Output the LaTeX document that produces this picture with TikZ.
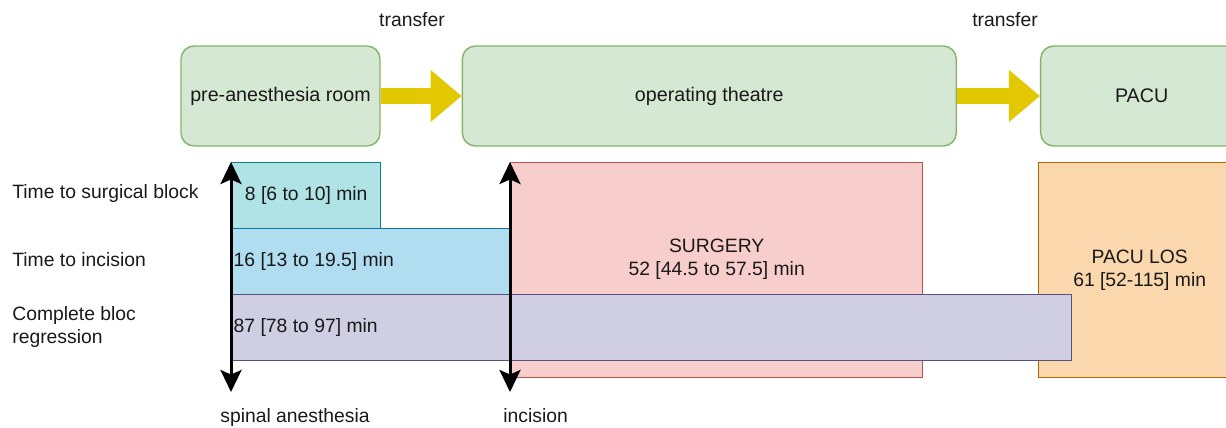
\documentclass[tikz,border=0pt]{standalone}
\usepackage{fontspec}
\setmainfont{Liberation Sans}
\usetikzlibrary{positioning, arrows.meta}

\definecolor{roomfill}{HTML}{D5E8D4}
\definecolor{roomline}{HTML}{82B366}
\definecolor{moveyellow}{HTML}{E3C800}
\definecolor{blkfill}{HTML}{B0E3E6}
\definecolor{blkline}{HTML}{0E8088}
\definecolor{incfill}{HTML}{B1DDF0}
\definecolor{incline}{HTML}{10739E}
\definecolor{regfill}{HTML}{D0CEE2}
\definecolor{regline}{HTML}{56517E}
\definecolor{surgfill}{HTML}{F8CECC}
\definecolor{surgline}{HTML}{B85450}
\definecolor{losfill}{HTML}{FAD7AC}
\definecolor{losline}{HTML}{B46504}

\begin{document}
\begin{tikzpicture}[x=0.02cm, y=-0.02cm, >={Stealth[length=0.44cm, width=0.42cm, inset=0.09cm]},
        node distance = 1.6cm, every node/.style={font=\fontsize{11}{13}\selectfont, text=black!90},
        room/.style={draw=roomline, fill=roomfill, line width=0.8pt, rounded corners=0.26cm,
            minimum width=3.98cm, minimum height=2cm, font=\fontsize{11.2}{13}\selectfont},
        bar/.style={draw=#1line, fill=#1fill, line width=0.8pt, anchor=north west,
            minimum height=1.32cm, inner sep=0pt},
        lbl/.style={anchor=west, inner xsep=0pt},
        transfer/.style={draw=moveyellow, line width=0.32cm, -{Triangle[length=0.62cm, width=1cm]}},
        timeline/.style={<->, line width=0.06cm}]
        \useasboundingbox (0,0) rectangle (1226,428);

        % rooms
        \node[room] (pre) at (280.5,96) {pre-anesthesia room};
        \node[room, minimum width=9.88cm, right=1.62cm of pre] (ot) {operating theatre};
        \node[room, minimum width=4.04cm, right=1.66cm of ot] (pacu) {PACU};
        \node (tr1) at (412,20) {transfer};
        \node (tr2) at (1005,20) {transfer};
        \draw[transfer] (pre) -- (ot);
        \draw[transfer] (ot) -- (pacu);

        % row labels
        \node[lbl] (lblk) at (12,194) {Time to surgical block};
        \node[lbl] (linc) at (12,260) {Time to incision};
        \node[lbl, align=left] (lreg) at (12,327) {Complete bloc\\regression};

        % durations
        \node[bar=surg, minimum width=8.24cm, minimum height=4.3cm] (surg) at (510,162) {};
        \node[align=center] (surgtxt) at ([yshift=0.22cm]surg.center) {SURGERY\\52 [44.5 to 57.5] min};
        \node[bar=los, minimum width=4.04cm, minimum height=4.3cm, align=center] (los) at (1038,162) {PACU LOS\\61 [52-115] min};
        \node[bar=blk, minimum width=2.98cm] (blk) at (231,162) {8 [6 to 10] min};
        \node[bar=inc, text width=5.5cm, inner xsep=0.04cm, align=flush left] (inc) at (231,228) {16 [13 to 19.5] min};
        \node[bar=reg, text width=16.72cm, inner xsep=0.04cm, align=flush left] (reg) at (231,294) {87 [78 to 97] min};

        % time marks
        \coordinate (spin end) at (231,392);
        \coordinate (cut end) at (510,392);
        \draw[timeline] (blk.north west) -- (spin end);
        \draw[timeline] (surg.north west) -- (cut end);
        \node[lbl] (spinal) at (220,418) {spinal anesthesia};
        \node[lbl] (incision) at (503,416) {incision};
\end{tikzpicture}
\end{document}
